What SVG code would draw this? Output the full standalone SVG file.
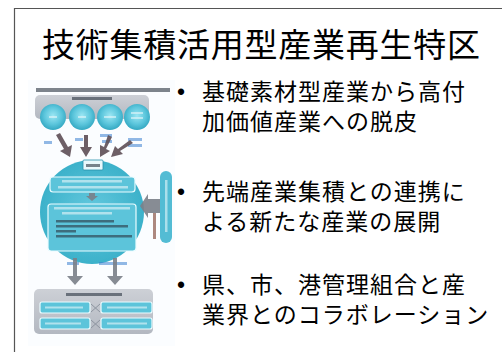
<svg xmlns="http://www.w3.org/2000/svg" width="502" height="352" viewBox="0 0 502 352">
<defs>
<style>
.t{font-family:"Noto Sans CJK JP","Noto Sans CJK SC",sans-serif;fill:#000}
.b{font-family:"Liberation Sans","Noto Sans CJK JP",sans-serif;font-size:23px;letter-spacing:1px}
.wbar{fill:#e8f6fa;opacity:.6}
.dbar{fill:#2a3440;opacity:.6}
.blu{fill:#3b7fd0;opacity:.55}
.box{fill:#5cc4da;stroke:#eafcff;stroke-width:1.2}
.arr{fill:#5d4e55;opacity:.9}
.garr{fill:#7a7f88;opacity:.9}
</style>
<filter id="soft" x="-5%" y="-5%" width="110%" height="110%">
<feGaussianBlur stdDeviation="0.7"/>
</filter>
<radialGradient id="ball" cx="50%" cy="45%" r="55%">
<stop offset="0" stop-color="#9be6f3"/>
<stop offset="0.6" stop-color="#5cc6dc"/>
<stop offset="1" stop-color="#34a8c2"/>
</radialGradient>
<radialGradient id="big" cx="50%" cy="50%" r="55%">
<stop offset="0" stop-color="#64c9de"/>
<stop offset="1" stop-color="#38afc8"/>
</radialGradient>
<linearGradient id="gray" x1="0" y1="0" x2="0" y2="1">
<stop offset="0" stop-color="#cdd0d6"/>
<stop offset="1" stop-color="#b3b8c1"/>
</linearGradient>
</defs>
<rect width="502" height="352" fill="#fff"/>
<path d="M14.5 352V8.5H502" fill="none" stroke="#555" stroke-width="1.2"/>
<g id="title">
<text class="t" x="42" y="57" font-size="33" textLength="438" lengthAdjust="spacing">技術集積活用型産業再生特区</text>
</g>
<g id="figure" filter="url(#soft)">
<rect x="28" y="80" width="147" height="266" fill="#fbfdff"/>
<rect x="36" y="88" width="134" height="4" class="dbar" opacity=".4"/>
<rect x="35" y="95" width="114" height="24" rx="5" fill="url(#gray)"/>
<rect x="72" y="97" width="40" height="3" class="dbar" opacity=".5"/>
<circle cx="53" cy="117" r="13" fill="url(#ball)"/>
<circle cx="82" cy="117" r="13" fill="url(#ball)"/>
<circle cx="110" cy="117" r="13" fill="url(#ball)"/>
<circle cx="137" cy="117" r="13" fill="url(#ball)"/>
<rect x="49" y="116" width="8" height="2" class="wbar"/>
<rect x="78" y="116" width="8" height="2" class="wbar"/>
<rect x="104" y="116" width="12" height="2" class="wbar"/>
<rect x="131" y="112" width="12" height="2" class="wbar"/>
<rect x="131" y="117" width="12" height="2" class="wbar"/>
<rect x="44" y="141" width="8" height="3" class="blu"/>
<rect x="75" y="138" width="8" height="3" class="blu"/>
<rect x="100" y="134" width="12" height="3" class="blu"/>
<rect x="102" y="140" width="10" height="3" class="blu"/>
<rect x="128" y="138" width="14" height="3" class="blu"/>
<rect x="128" y="144" width="14" height="3" class="blu"/>
<path class="arr" d="M56 135l4 -2 8 14 4 -2 -2 12 -10 -6 4 -2z"/>
<path class="arr" d="M84 135h4v12h4l-6 10 -6 -10h4z"/>
<path class="arr" d="M108 135l4 2 -6 12 4 2 -10 6 0 -12 4 2z"/>
<path class="arr" d="M130 140l3 3 -13 8 3 3 -12 3 4 -11 3 3z"/>
<circle cx="92" cy="212" r="52" fill="url(#big)"/>
<rect x="83" y="160" width="20" height="10" rx="1" fill="#e9f8fc" stroke="#2a8fab" stroke-width=".8"/>
<rect x="86" y="164" width="14" height="3" class="dbar" opacity=".4"/>
<rect x="50" y="177" width="85" height="15" rx="3" class="box"/>
<rect x="62" y="180" width="60" height="2.5" class="wbar"/>
<rect x="58" y="186" width="70" height="2.5" class="wbar"/>
<path class="garr" d="M89 193h6v3h3l-6 5 -6-5h3z"/>
<rect x="48" y="204" width="88" height="47" rx="3" class="box"/>
<rect x="54" y="207" width="76" height="2.5" class="wbar"/>
<rect x="62" y="212" width="50" height="2.5" class="wbar"/>
<rect x="56" y="220" width="58" height="2.5" class="dbar"/>
<rect x="56" y="225" width="72" height="2.5" class="dbar"/>
<rect x="56" y="230" width="20" height="2.5" class="dbar"/>
<rect x="56" y="235" width="76" height="2.5" class="dbar"/>
<path class="garr" d="M160 199v14h-12v5l-8-12 8-12v5z"/>
<rect x="160" y="171" width="12" height="72" rx="6" fill="#52bcd4"/>
<rect x="165" y="180" width="2.5" height="52" class="wbar"/>
<rect x="153" y="213" width="3" height="26" fill="#7a3a2a" opacity=".6"/>
<rect x="67" y="262" width="12" height="3" class="blu"/>
<rect x="99" y="262" width="28" height="3" class="blu"/>
<path class="garr" d="M73 258h4v18h6l-8 9 -8-9h6z"/>
<path class="garr" d="M113 258h4v18h6l-8 9 -8-9h6z"/>
<rect x="34" y="289" width="119" height="45" rx="5" fill="url(#gray)"/>
<rect x="66" y="293" width="56" height="3" class="dbar"/>
<rect x="40" y="302" width="50" height="11" rx="2" class="box"/>
<rect x="101" y="302" width="51" height="11" rx="2" class="box"/>
<rect x="40" y="318" width="50" height="11" rx="2" class="box"/>
<rect x="101" y="318" width="51" height="11" rx="2" class="box"/>
<rect x="45" y="306.5" width="38" height="2" class="wbar"/>
<rect x="107" y="306.5" width="40" height="2" class="wbar"/>
<rect x="45" y="322.5" width="36" height="2" class="wbar"/>
<rect x="107" y="322.5" width="40" height="2" class="wbar"/>
<path d="M91 304l9 8M100 304l-9 8M91 320l9 8M100 320l-9 8" stroke="#8d95a0" stroke-width="1"/>
</g>
<g id="bullets" class="t b">
<text y="100"><tspan x="177">•</tspan><tspan x="202">基礎素材型産業から高付</tspan><tspan x="202" dy="30">加価値産業への脱皮</tspan></text>
<text y="200"><tspan x="177">•</tspan><tspan x="202">先端産業集積との連携に</tspan><tspan x="202" dy="30">よる新たな産業の展開</tspan></text>
<text y="293"><tspan x="177">•</tspan><tspan x="202">県、市、港管理組合と産</tspan><tspan x="202" dy="30">業界とのコラボレーション</tspan></text>
</g>
</svg>
